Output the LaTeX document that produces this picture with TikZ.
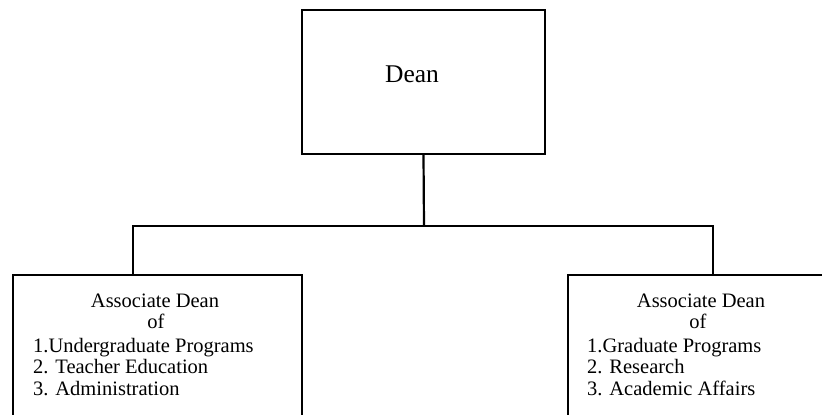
\documentclass[tikz,border=0pt]{standalone}
\usepackage{fontspec}
\setmainfont{Liberation Serif}
\begin{document}
\begin{tikzpicture}[x=1pt,y=-1pt,
  boxstyle/.style={draw=black,line width=2.2pt,rectangle,inner sep=0pt},
  conn/.style={draw=black,line width=2.2pt},
  bigtext/.style={inner sep=0pt,font=\fontsize{25.5}{28}\selectfont},
  smalltext/.style={inner sep=0pt,font=\fontsize{20.5}{22}\selectfont}]
\useasboundingbox (0,0) rectangle (822,415);
\clip (0,0) rectangle (822,415);
\fill[white] (0,0) rectangle (822,415);
% Dean box
\node[boxstyle,minimum width=243pt,minimum height=144pt] (dean) at (423.5,82) {};
\node[bigtext,anchor=base] (deantext) at (412,82) {Dean};
% Associate dean boxes (extending beyond the picture)
\node[boxstyle,anchor=north west,minimum width=289pt,minimum height=170pt] (lbox) at (12,274) {};
\node[boxstyle,anchor=north west,minimum width=290pt,minimum height=170pt] (rbox) at (567,274) {};
% connectors
\coordinate (j) at (424,226);
\coordinate (lt) at (133,274);
\coordinate (rt) at (713,274);
\draw[conn] (dean.south) -- (j);
\draw[conn] (lt) |- (j) -| (rt);
% left text
\node[smalltext,anchor=base] (lt1) at (155,307) {Associate Dean};
\node[smalltext,anchor=base] (lt2) at (156,328) {of};
\node[smalltext,anchor=base west] (lt3) at (33,352) {1.Undergraduate Programs};
\node[smalltext,anchor=base west] (lt4) at (33,373) {2. Teacher Education};
\node[smalltext,anchor=base west] (lt5) at (33,395) {3. Administration};
% right text
\node[smalltext,anchor=base] (rt1) at (701,307) {Associate Dean};
\node[smalltext,anchor=base] (rt2) at (698,328) {of};
\node[smalltext,anchor=base west] (rt3) at (587,352) {1.Graduate Programs};
\node[smalltext,anchor=base west] (rt4) at (587,373) {2. Research};
\node[smalltext,anchor=base west] (rt5) at (587,395) {3. Academic Affairs};
\end{tikzpicture}
\end{document}
